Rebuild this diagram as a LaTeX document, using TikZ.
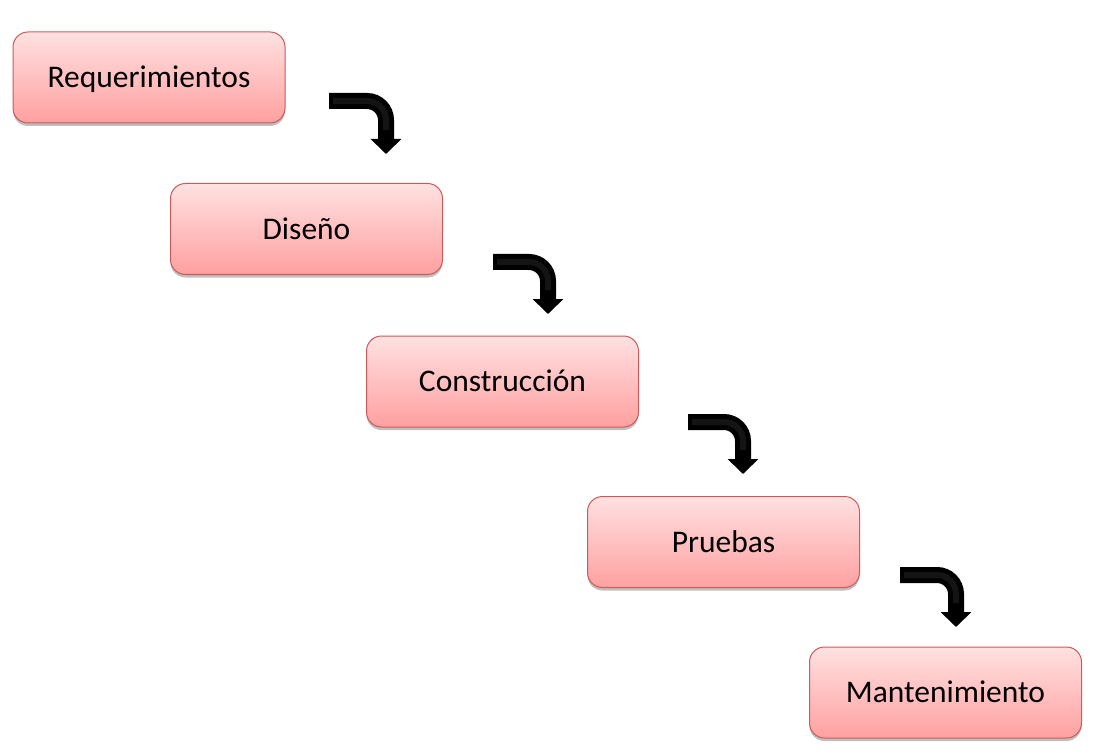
\documentclass[tikz,border=0pt]{standalone}
\usepackage{fontspec}
\setmainfont{Carlito}
\usetikzlibrary{arrows.meta,shadows}
\definecolor{boxborder}{RGB}{205,90,90}
\definecolor{boxtop}{RGB}{255,225,225}
\definecolor{boxbot}{RGB}{255,160,160}
\begin{document}
\begin{tikzpicture}[x=1pt,y=-1pt,
  stagebox/.style={draw=boxborder, line width=1pt, rounded corners=15pt,
    top color=boxtop, bottom color=boxbot,
    minimum width=272pt, minimum height=91pt, inner sep=0pt,
    text height=20.5pt, text depth=0pt,
    font=\fontsize{31.5}{38}\selectfont,
    drop shadow={shadow xshift=0pt, shadow yshift=-3pt, opacity=0.25, fill=black}},
  bentarrow/.style={line width=16pt, rounded corners=19pt, black,
    -{Triangle[width=30pt,length=15pt]}},
  gloss/.style={line width=6pt, rounded corners=19pt, white, opacity=0.08}
]
\useasboundingbox (0,0) rectangle (1098,754);
\fill[white] (0,0) rectangle (1098,754);

\node[stagebox] (req) at (149,77.5) {Requerimientos};
\node[stagebox] (dis) at (306.5,229) {Diseño};
\node[stagebox] (con) at (502.5,381.5) {Construcción};
\node[stagebox] (pru) at (723.5,542) {Pruebas};
\node[stagebox] (man) at (945.5,692.5) {Mantenimiento};

% arrows: start (x0, y0+8), tip (x0+56, y0+61)
\coordinate (a1s) at (329,101);  \coordinate (a1e) at (386,154);
\coordinate (a2s) at (493,262);  \coordinate (a2e) at (548,314);
\coordinate (a3s) at (688,422);  \coordinate (a3e) at (743,474);
\coordinate (a4s) at (900,575);  \coordinate (a4e) at (956,627);

\foreach \s/\e in {a1s/a1e, a2s/a2e, a3s/a3e, a4s/a4e}{
  \draw[bentarrow] (\s) -| (\e);
  \draw[gloss, shorten >=24pt, shorten <=4pt] (\s) -| (\e);
}
\end{tikzpicture}
\end{document}
